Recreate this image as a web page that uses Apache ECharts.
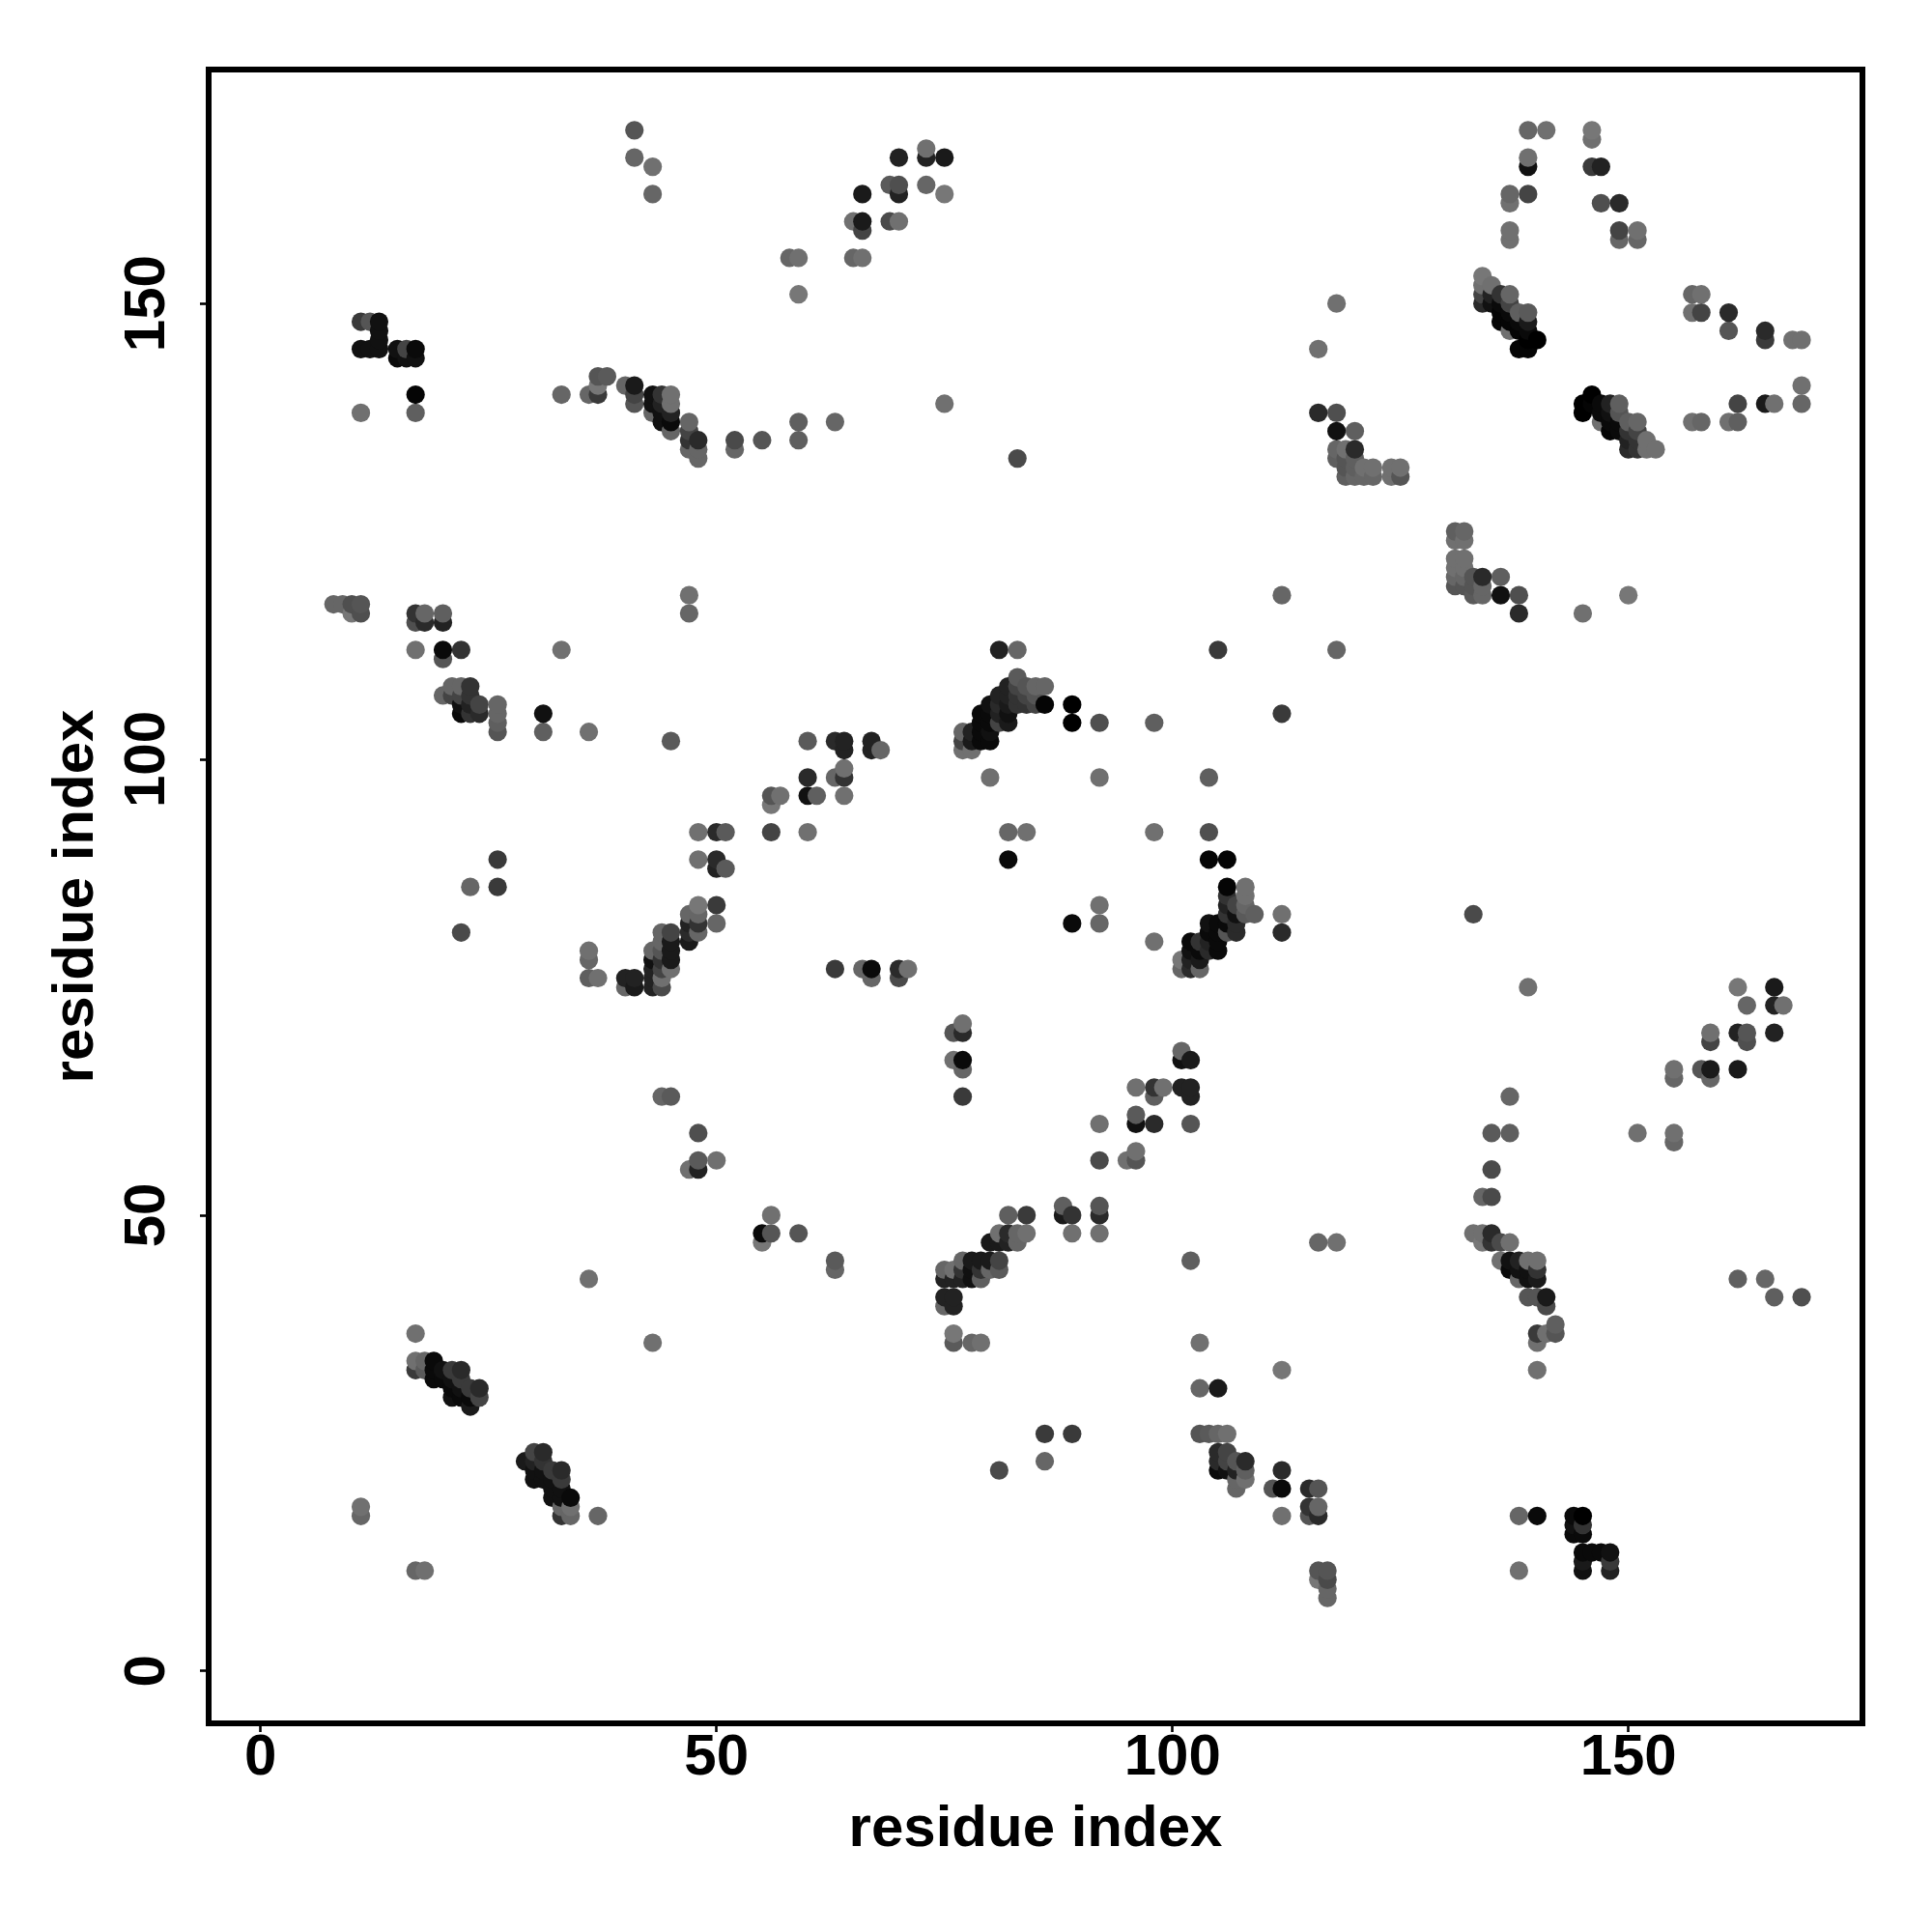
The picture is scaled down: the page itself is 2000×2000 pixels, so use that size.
<!DOCTYPE html>
<html>
<head>
<meta charset="utf-8">
<script src="https://cdn.jsdelivr.net/npm/echarts@6/dist/echarts.min.js"></script>
<style>html,body{margin:0;padding:0;background:#fff}#c{width:2000px;height:2000px}</style>
</head>
<body>
<div id="c"></div>
<script>
// each contact: [residue x, residue y, grey level]
const tickValues = [0, 50, 100, 150];
const axisName = 'residue index';

const bottomLeft = [
[36,43,0x70],[17,37,0x70],[43,36,0x70],
[17,34,0x70],[17,33,0x3a],[18,34,0x66],[18,33,0x5a],[19,34,0x0a],[19,33,0x0a],[19,32,0x0a],
[20,33,0x11],[20,32,0x0a],[21,33,0x3a],[21,32,0x11],[21,31,0x0a],[21,30,0x11],[22,33,0x2a],[22,32,0x3a],[22,31,0x11],[22,30,0x0a],
[23,31,0x3a],[23,30,0x0a],[23,29,0x1a],[24,31,0x2a],[24,30,0x44],
[29,23,0x1a],[30,24,0x44],[30,23,0x22],[30,22,0x11],[30,21,0x11],[31,24,0x2a],[31,23,0x33],[31,22,0x11],[31,21,0x11],
[32,22,0x3a],[32,21,0x11],[32,20,0x11],[32,19,0x11],[33,22,0x2a],[33,21,0x3a],[33,20,0x11],[33,19,0x11],[33,18,0x66],[33,17,0x33],
[34,19,0x0a],[34,18,0x70],[34,17,0x66],[37,17,0x66],
[11,18,0x70],[11,17,0x66],[17,11,0x66],[18,11,0x70]
];
const bottomMid = [
[55,48,0x0a],[55,47,0x77],[56,50,0x70],[56,48,0x55],[59,48,0x55],[63,45,0x5a],[63,44,0x66],
[82,50,0x5f],[84,50,0x3a],[88,51,0x5f],[88,50,0x1a],[89,50,0x33],[89,48,0x70],[92,51,0x55],[92,50,0x2a],[92,48,0x70],
[81,48,0x70],[82,48,0x2a],[83,48,0x66],[84,48,0x70],[80,47,0x1a],[81,47,0x1a],[82,47,0x22],[83,47,0x66],
[77,45,0x66],[78,45,0x1a],[79,45,0x1a],[80,45,0x1a],[81,45,0x44],
[75,44,0x66],[76,44,0x70],[77,44,0x33],[78,44,0x11],[79,44,0x33],[80,44,0x66],[81,44,0x5a],
[75,43,0x22],[76,43,0x22],[77,43,0x22],[78,43,0x11],[79,43,0x5f],
[75,41,0x22],[76,41,0x22],[75,40,0x66],[76,40,0x22],
[76,37,0x77],[76,36,0x5a],[78,36,0x66],[79,36,0x70],[102,45,0x5f],[103,36,0x70],[112,33,0x77],[103,31,0x66],[105,31,0x1a],
[103,26,0x55],[104,26,0x5a],[105,26,0x66],[106,26,0x70],[86,26,0x3a],[89,26,0x3a],[86,23,0x66],[81,22,0x4a],
[105,24,0x2a],[106,24,0x44],[105,23,0x2a],[105,22,0x0a],[106,23,0x44],[106,22,0x11],
[107,23,0x55],[107,22,0x22],[107,21,0x66],[107,20,0x66],[108,23,0x2a],[108,22,0x5f],[108,21,0x70],
[112,22,0x2a],[111,20,0x55],[112,20,0x0a],[112,17,0x70],
[115,20,0x2a],[115,18,0x33],[115,17,0x55]
];
const bottomRight = [
[116,47,0x66],[118,47,0x70],[116,20,0x55],[116,18,0x66],[116,17,0x2a],
[116,11,0x55],[117,11,0x55],[116,10,0x77],[117,10,0x4a],[117,9,0x66],[117,8,0x66],
[133,48,0x70],[134,48,0x70],[135,48,0x2a],[134,47,0x77],[135,47,0x33],[136,47,0x4a],[137,47,0x70],
[136,45,0x70],[137,45,0x11],[138,45,0x22],[139,45,0x70],[140,45,0x70],
[137,44,0x0a],[138,44,0x11],[139,44,0x11],[140,44,0x33],[138,43,0x66],[139,43,0x11],[140,43,0x1a],
[139,41,0x55],[140,41,0x55],[141,41,0x1a],[141,40,0x4a],
[142,38,0x5f],[142,37,0x55],[141,37,0x70],[140,37,0x3a],[140,36,0x70],[140,33,0x70],
[162,43,0x5f],[165,43,0x66],[166,41,0x5f],[169,41,0x4f],
[138,17,0x66],[140,17,0x0a],[144,17,0x0a],[145,17,0x00],[144,16,0x11],[145,16,0x33],[144,15,0x0a],[145,15,0x0a],
[145,13,0x0a],[146,13,0x0a],[147,13,0x0a],[148,13,0x11],[145,12,0x1a],[148,12,0x3a],[145,11,0x11],[148,11,0x22],[138,11,0x70]
];
const middleLeft = [
[31,105,0x11],[31,103,0x5f],[36,103,0x70],[45,102,0x5a],
[26,106,0x66],[26,105,0x66],[26,104,0x5f],[26,103,0x55],
[22,106,0x11],[23,106,0x22],[24,106,0x44],[22,105,0x0a],[23,105,0x33],[24,105,0x2a],
[26,89,0x3a],[26,86,0x3a],[23,86,0x66],[22,81,0x4a],
[48,92,0x70],[50,92,0x2a],[51,92,0x5a],[48,89,0x70],[50,89,0x2a],[50,88,0x22],[51,88,0x5a],
[50,84,0x3a],[50,82,0x66],[48,84,0x77],[47,83,0x66],[48,83,0x66],[47,82,0x22],[48,82,0x33],[47,81,0x2a],[48,81,0x66],[47,80,0x1a],
[44,81,0x66],[45,81,0x44],[44,80,0x66],[45,80,0x1a],[43,79,0x66],[44,79,0x55],[45,79,0x1a],[43,78,0x11],[44,78,0x33],[45,78,0x1a],
[43,77,0x22],[44,77,0x44],[45,77,0x70],[43,76,0x22],[44,76,0x70],[43,75,0x22],[44,75,0x4a],
[36,79,0x70],[36,78,0x66],[36,76,0x5f],[37,76,0x70],[40,76,0x22],[41,76,0x22],[40,75,0x66],[41,75,0x1a],
[44,63,0x66],[45,63,0x5a],[48,59,0x4f],[48,56,0x5a],[50,56,0x70],[47,55,0x70],[48,55,0x22]
];
const middleMid = [
[60,102,0x5a],[63,102,0x2a],[64,102,0x22],[64,101,0x22],[67,102,0x22],[67,101,0x22],[68,101,0x66],
[64,99,0x70],[63,98,0x66],[64,98,0x33],[60,98,0x2a],[60,96,0x11],[61,96,0x5f],[64,96,0x70],
[56,96,0x55],[57,96,0x70],[56,95,0x77],[56,92,0x44],[60,92,0x70],
[63,77,0x3a],[66,77,0x66],[67,77,0x0a],[67,76,0x66],[70,77,0x2a],[71,77,0x70],[70,76,0x4a],
[80,98,0x70],[92,98,0x70],[104,98,0x5f],[82,92,0x66],[84,92,0x70],[98,92,0x70],[104,92,0x4f],
[82,89,0x0a],[104,89,0x05],[106,89,0x05],[89,106,0x00],[89,104,0x00],[92,104,0x4f],[98,104,0x5f],[112,105,0x3a],
[89,82,0x0a],[92,84,0x70],[92,82,0x66],[98,80,0x70],[112,83,0x70],[112,81,0x2a],
[106,86,0x05],[108,86,0x70],[106,85,0x33],[108,85,0x70],[106,84,0x22],[107,84,0x44],[108,84,0x66],
[106,83,0x33],[107,83,0x11],[108,83,0x5a],[109,83,0x5f],[104,82,0x11],[105,82,0x0a],[106,82,0x0a],[107,82,0x2a],
[104,81,0x0a],[105,81,0x0a],[106,81,0x55],[107,81,0x2a],[102,80,0x0a],[103,80,0x33],[104,80,0x22],[105,80,0x0a],
[102,79,0x11],[103,79,0x0a],[104,79,0x2a],[105,79,0x0a],[101,78,0x77],[102,78,0x22],[103,78,0x1a],[101,77,0x66],[102,77,0x2a],[103,77,0x66],
[81,112,0x22],[83,112,0x66],[105,112,0x3a],[112,118,0x66],[83,109,0x5a],
[82,108,0x22],[83,108,0x44],[84,108,0x55],[85,108,0x66],[86,108,0x66],
[81,107,0x22],[82,107,0x22],[83,107,0x33],[84,107,0x44],[85,107,0x55],
[80,106,0x11],[81,106,0x2a],[82,106,0x1a],[83,106,0x33],[84,106,0x33],[85,106,0x44],[86,106,0x05],
[79,105,0x0a],[80,105,0x0a],[81,105,0x22],[82,105,0x11],[79,104,0x0a],[80,104,0x0a],[81,104,0x44],[82,104,0x1a],
[77,103,0x66],[78,103,0x22],[79,103,0x0a],[80,103,0x11],[77,102,0x44],[78,102,0x1a],[79,102,0x0a],[80,102,0x0a],[77,101,0x70],[78,101,0x70],
[77,71,0x70],[76,70,0x55],[77,70,0x2a],[76,67,0x70],[77,67,0x0a],[77,66,0x66],[77,63,0x3a],
[101,68,0x66],[101,67,0x11],[102,67,0x1a],[96,64,0x70],[98,64,0x33],[99,64,0x70],[98,63,0x5f],[101,64,0x22],[102,64,0x22],[102,63,0x22],
[96,61,0x5a],[96,60,0x11],[98,60,0x2a],[102,60,0x55],[92,60,0x70],[92,56,0x4a],[96,57,0x70],[95,56,0x70],[96,56,0x55]
];
const middleRight = [
[133,83,0x4a],[139,75,0x70],[162,75,0x77],[166,75,0x1a],[163,73,0x66],[166,73,0x22],[167,73,0x70],
[159,70,0x70],[159,69,0x44],[162,70,0x22],[163,70,0x55],[163,69,0x4f],[166,70,0x22],
[155,66,0x70],[155,65,0x66],[158,66,0x55],[159,66,0x1a],[159,65,0x66],[162,66,0x1a],
[137,63,0x66],[135,59,0x5a],[137,59,0x5f],[151,59,0x70],[155,59,0x70],[155,58,0x66],[135,55,0x4a],[134,52,0x66],[135,52,0x4a]
];
const topLeft = [
[41,169,0x55],[41,166,0x66],[43,165,0x70],[43,162,0x66],
[11,148,0x3a],[12,148,0x55],[13,148,0x11],[13,147,0x11],[13,146,0x11],[11,145,0x11],[12,145,0x11],[13,145,0x11],
[15,145,0x11],[16,145,0x44],[17,145,0x0a],[15,144,0x0a],[16,144,0x11],[17,144,0x11],
[17,140,0x05],[11,138,0x70],[17,138,0x5f],[33,140,0x66],[36,140,0x66],[37,140,0x3a],[37,141,0x77],[37,142,0x55],[38,142,0x5a],
[40,141,0x66],[41,141,0x1a],[41,140,0x44],[41,139,0x55],
[43,140,0x11],[44,140,0x33],[45,140,0x70],[43,139,0x11],[44,139,0x22],[45,139,0x70],[43,138,0x66],[44,138,0x11],[45,138,0x22],
[44,137,0x11],[45,137,0x0a],[45,136,0x66],[47,137,0x66],[47,136,0x44],[47,135,0x33],[48,135,0x2a],[47,134,0x66],[48,134,0x66],[48,133,0x66],
[52,135,0x4a],[52,134,0x66],[55,135,0x55],[47,118,0x70],[47,116,0x66],
[8,117,0x66],[9,117,0x66],[10,117,0x4f],[11,117,0x55],[10,116,0x77],[11,116,0x4f],
[17,116,0x33],[18,116,0x66],[20,116,0x5f],[17,115,0x4f],[18,115,0x2a],[20,115,0x22],
[17,112,0x70],[20,112,0x0a],[22,112,0x33],[33,112,0x70],[20,111,0x55],
[21,108,0x66],[22,108,0x66],[23,108,0x33],[20,107,0x66],[21,107,0x44],[22,107,0x44],[23,107,0x33]
];
const topMid = [
[70,166,0x22],[73,167,0x70],[73,166,0x22],[75,166,0x1a],[66,162,0x1a],[69,163,0x5a],[70,163,0x4f],[70,162,0x22],[73,163,0x66],[75,162,0x77],
[65,159,0x70],[66,159,0x1a],[66,158,0x44],[69,159,0x4a],[70,159,0x70],[58,155,0x66],[59,155,0x70],[65,155,0x66],[66,155,0x70],[59,151,0x77],
[83,133,0x4a],[75,139,0x70],[59,137,0x5f],[63,137,0x66],[59,135,0x5f]
];
const topRight = [
[118,150,0x70],[116,145,0x70],[116,138,0x2a],[118,138,0x4f],[118,136,0x11],[120,136,0x5f],
[120,134,0x2a],[118,134,0x66],[119,134,0x70],[118,133,0x5f],[119,133,0x55],[120,133,0x5f],[119,132,0x55],[120,132,0x5f],[121,132,0x70],[122,132,0x70],
[119,131,0x5f],[120,131,0x66],[121,131,0x66],[122,131,0x66],[124,132,0x70],[125,132,0x70],[124,131,0x70],[125,131,0x55],
[139,169,0x66],[141,169,0x70],[146,169,0x77],[146,168,0x70],[139,166,0x70],[139,165,0x11],[146,165,0x3a],[147,165,0x22],
[137,162,0x66],[137,161,0x70],[139,162,0x44],[147,161,0x4f],[149,161,0x2a],[137,158,0x70],[137,157,0x70],[149,158,0x44],[149,157,0x66],[151,158,0x70],[151,157,0x66],
[134,153,0x77],[134,152,0x70],[135,152,0x70],[134,151,0x44],[135,151,0x22],[136,151,0x33],[137,151,0x66],[134,150,0x2a],[135,150,0x11],[136,150,0x0a],[137,150,0x44],
[136,149,0x05],[137,149,0x0a],[138,149,0x5f],[139,149,0x5a],[136,148,0x05],[137,148,0x05],[138,148,0x0a],[139,148,0x1a],[137,147,0x70],[138,147,0x05],[139,147,0x0a],
[139,146,0x00],[140,146,0x00],[138,145,0x05],[139,145,0x05],
[146,140,0x00],[145,139,0x00],[146,139,0x05],[145,138,0x00],[147,139,0x0a],[148,139,0x22],[149,139,0x5f],[147,138,0x0a],[148,138,0x11],[149,138,0x55],
[147,137,0x70],[148,137,0x0a],[149,137,0x0a],[150,137,0x5f],[151,137,0x66],[148,136,0x05],[149,136,0x0a],[150,136,0x33],[151,136,0x44],
[150,135,0x22],[151,135,0x33],[152,135,0x70],[150,134,0x2a],[151,134,0x33],[152,134,0x70],[153,134,0x70],
[157,151,0x66],[158,151,0x70],[157,149,0x70],[158,149,0x44],[161,149,0x2a],[161,147,0x55],[165,147,0x2a],[165,146,0x3a],[168,146,0x70],[169,146,0x70],
[169,141,0x70],[169,139,0x66],[162,139,0x44],[165,139,0x1a],[166,139,0x70],[157,137,0x70],[158,137,0x66],[161,137,0x70],[162,137,0x5f],
[131,125,0x5f],[132,125,0x66],[131,124,0x70],[132,124,0x70],[131,122,0x70],[132,122,0x70],[131,121,0x70],[132,121,0x70],
[131,120,0x66],[132,120,0x66],[133,120,0x55],[134,120,0x2a],[136,120,0x5f],[131,119,0x55],[132,119,0x55],[133,119,0x55],[134,119,0x66],
[133,118,0x5a],[134,118,0x66],[136,118,0x11],[138,118,0x4f],[138,116,0x2a],[150,118,0x77],[145,116,0x70],[118,112,0x66]
];

// later residues paint over earlier ones, as in the reference
const contacts = [].concat(bottomLeft, bottomMid, bottomRight, middleLeft, middleMid, middleRight, topLeft, topMid, topRight)
  .sort((a, b) => a[0] - b[0] || a[1] - b[1]);

const FONT = '"Liberation Sans", Arial, sans-serif';
const baseAxis = {
  type: 'value',
  name: axisName,
  nameLocation: 'middle',
  nameTextStyle: { fontFamily: FONT, fontWeight: 'bold', fontSize: 60, color: '#000' },
  splitLine: { show: false },
  axisLine: { show: false, onZero: false },
  axisTick: { show: true, length: 9, customValues: tickValues, lineStyle: { color: '#000', width: 2.6 } },
  axisLabel: { customValues: tickValues, fontFamily: FONT, fontWeight: 'bold', fontSize: 60, color: '#000', hideOverlap: false }
};
const chart = echarts.init(document.getElementById('c'), null, { renderer: 'canvas' });
chart.setOption({
  animation: false,
  backgroundColor: '#fff',
  grid: { show: true, left: 216, top: 72, width: 1712, height: 1712, borderColor: '#000', borderWidth: 6, backgroundColor: 'transparent', containLabel: false },
  xAxis: Object.assign({}, baseAxis, { min: -5.69, max: 175.67, nameGap: 80,
    axisLabel: Object.assign({}, baseAxis.axisLabel, { margin: 6 }) }),
  yAxis: Object.assign({}, baseAxis, { min: -5.75, max: 175.66, nameGap: 107,
    axisLabel: Object.assign({}, baseAxis.axisLabel, { margin: 33, rotate: 90 }) }),
  series: [{
    type: 'scatter',
    symbol: 'circle',
    symbolSize: 19.2,
    silent: true,
    large: false,
    progressive: 0,
    data: contacts.map(c => ({
      value: [c[0], c[1]],
      itemStyle: { color: `rgb(${c[2]},${c[2]},${c[2]})`, opacity: 1 }
    }))
  }]
});
</script>
</body>
</html>
